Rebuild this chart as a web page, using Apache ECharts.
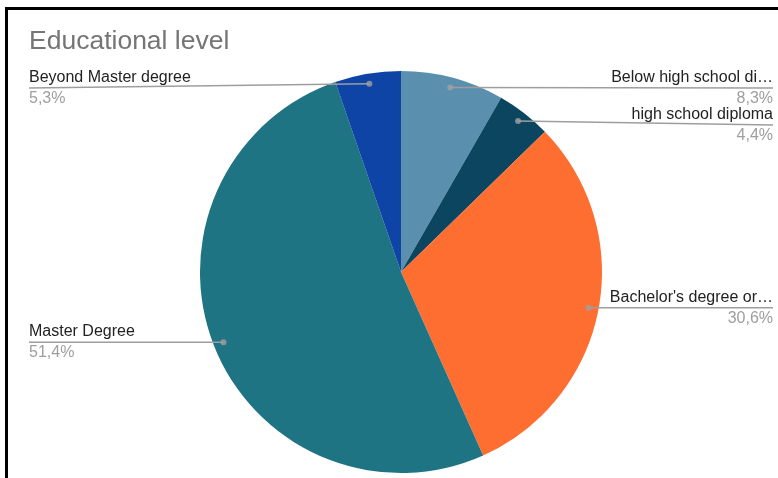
<!DOCTYPE html>
<html><head><meta charset="utf-8">
<script src="https://cdn.jsdelivr.net/npm/echarts@6/dist/echarts.min.js"></script>
<style>html,body{margin:0;padding:0;background:#fff}#c{width:778px;height:478px}</style>
</head><body><div id="c"></div>
<script>
const categories = ['Below high school di\u2026', 'high school diploma', "Bachelor's degree or\u2026", 'Master Degree', 'Beyond Master degree'];
const values = [8.3, 4.4, 30.6, 51.4, 5.3];
const colors = ['#5a90ae', '#0b4560', '#ff6e31', '#1f7483', '#0d44a6'];

const CENTER = [401, 272];
const RADIUS = 201;
const DOT_RATIO = 0.95;
const FONT = "'Liberation Sans', Arial, sans-serif";

const total = values.reduce((a, b) => a + b, 0);
let acc = 0;
const mids = values.map(v => { const m = acc + v / 2; acc += v; return m; });

let placed = [];
function layoutLabel(params) {
  const pts = params.labelLinePoints;
  if (!pts) return {};
  if (params.dataIndex === 0) placed = [];
  const p0 = pts[0];
  const dot = [CENTER[0] + (p0[0] - CENTER[0]) * DOT_RATIO, CENTER[1] + (p0[1] - CENTER[1]) * DOT_RATIO];
  const right = dot[0] >= CENTER[0];
  let y = Math.max(dot[1], 88);
  placed.forEach(p => {
    if (p.right === right && Math.abs(y - p.y) < 37) {
      y = y >= p.y ? p.y + 37 : p.y - 37;
    }
  });
  placed.push({ right: right, y: y });
  const ex = right ? 773 : 29;
  return {
    x: ex, y: y,
    align: right ? 'right' : 'left',
    verticalAlign: 'middle',
    labelLinePoints: [dot, [ex, y]]
  };
}

const pieBase = {
  type: 'pie',
  center: CENTER,
  radius: RADIUS,
  startAngle: 90,
  clockwise: true,
  avoidLabelOverlap: false,
  silent: true,
  emphasis: { disabled: true }
};

const chart = echarts.init(document.getElementById('c'), null, { renderer: 'canvas' });
chart.setOption({
  animation: false,
  backgroundColor: '#fff',
  title: {
    text: 'Educational level', left: 29, top: 28, padding: 0,
    textStyle: { fontSize: 26.5, fontWeight: 'normal', color: '#757575', fontFamily: FONT }
  },
  graphic: [
    { type: 'line', shape: { x1: 6.5, y1: 8.5, x2: 778, y2: 8.5 }, style: { stroke: '#000', lineWidth: 3 }, z: 100 },
    { type: 'line', shape: { x1: 6.5, y1: 7, x2: 6.5, y2: 478 }, style: { stroke: '#000', lineWidth: 3 }, z: 100 }
  ],
  polar: { center: CENTER, radius: RADIUS },
  angleAxis: { type: 'value', min: 0, max: total, startAngle: 90, clockwise: true, show: false },
  radiusAxis: { type: 'value', min: 0, max: 1, show: false },
  series: [
    Object.assign({}, pieBase, {
      z: 2,
      data: categories.map((n, i) => ({ name: n, value: values[i], itemStyle: { color: colors[i] } })),
      label: { show: false },
      labelLine: { show: false }
    }),
    Object.assign({}, pieBase, {
      z: 5,
      data: categories.map((n, i) => ({ name: n, value: values[i], itemStyle: { color: 'rgba(0,0,0,0)' } })),
      label: {
        show: true,
        position: 'outside',
        opacity: 1,
        fontFamily: FONT,
        formatter: p => '{n|' + p.name + '}\n{p|' + p.value.toFixed(1).replace('.', ',') + '%}',
        rich: {
          n: { fontSize: 16, lineHeight: 21, color: '#222222', fontFamily: FONT },
          p: { fontSize: 16, lineHeight: 21, color: '#9e9e9e', fontFamily: FONT }
        }
      },
      labelLine: { show: true, showAbove: true, length: 10, length2: 10, smooth: false, lineStyle: { color: '#9e9e9e', width: 1.5, opacity: 1 } },
      labelLayout: layoutLabel
    }),
    {
      type: 'scatter',
      coordinateSystem: 'polar',
      silent: true,
      z: 10,
      symbolSize: 6,
      itemStyle: { color: '#a0a0a0' },
      data: mids.map(m => [DOT_RATIO, m])
    }
  ]
});
</script>
</body></html>
